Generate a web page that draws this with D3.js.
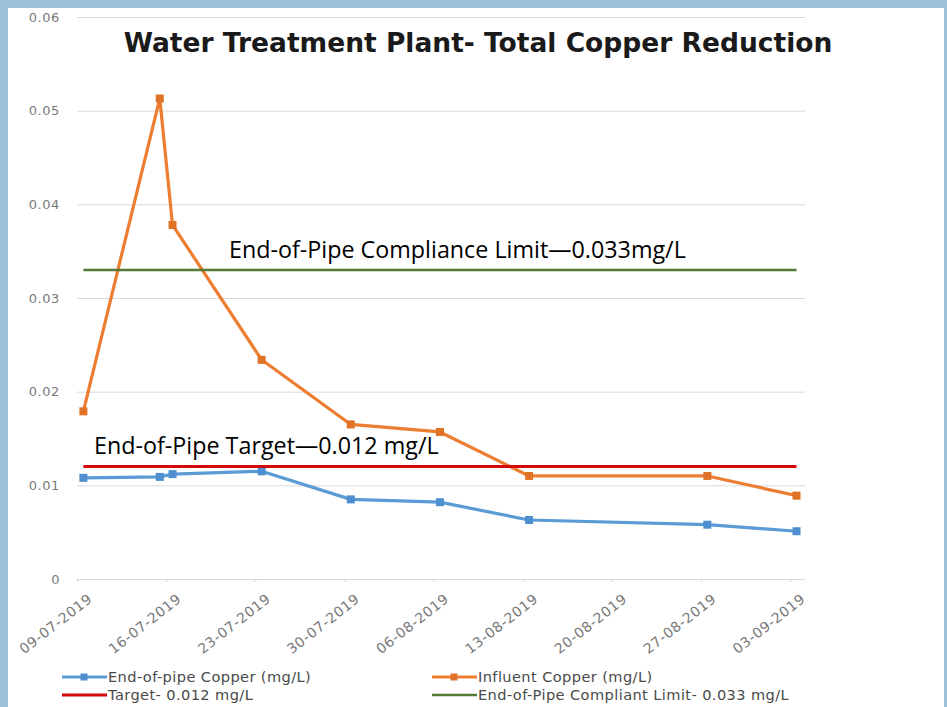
<!DOCTYPE html>
<html>
<head>
<meta charset="utf-8">
<script src="https://cdn.jsdelivr.net/npm/d3@7/dist/d3.min.js"></script>
<style>
  body { margin: 0; background: #9cc3d9; }
  svg { display: block; }
  .axis-label { font-family: "DejaVu Sans", sans-serif; fill: #7a7a7a; }
</style>
</head>
<body>
<svg id="chart"></svg>
<script>
// Sampling dates (dd-mm-yyyy as on the chart)
const sampleDates = ['09-07-2019', '15-07-2019', '16-07-2019', '23-07-2019', '30-07-2019',
  '06-08-2019', '13-08-2019', '27-08-2019', '03-09-2019'];

// mg/L values
const endOfPipeCopper = [0.0108, 0.0109, 0.0112, 0.0115, 0.0085, 0.0082, 0.0063, 0.0058, 0.0051];
const influentCopper = [0.0179, 0.0513, 0.0378, 0.0234, 0.0165, 0.0157, 0.0110, 0.0110, 0.0089];
const targetLimit = [0.012, 0.012, 0.012, 0.012, 0.012, 0.012, 0.012, 0.012, 0.012];
const complianceLimit = [0.033, 0.033, 0.033, 0.033, 0.033, 0.033, 0.033, 0.033, 0.033];

// axis ticks
const xTickLabels = ['09-07-2019', '16-07-2019', '23-07-2019', '30-07-2019', '06-08-2019',
  '13-08-2019', '20-08-2019', '27-08-2019', '03-09-2019'];
const yTickValues = [0, 0.01, 0.02, 0.03, 0.04, 0.05, 0.06];

const parseDay = d3.utcParse('%d-%m-%Y');

class CopperChart {
  constructor(_config) {
    this.config = {
      parentElement: _config.parentElement,
      containerWidth: 947,
      containerHeight: 707,
      plot: { left: 77, right: 805, top: 17, bottom: 579 },
    };
    this.initVis();
  }

  initVis() {
    let vis = this;
    const p = vis.config.plot;

    vis.svg = d3.select(vis.config.parentElement)
      .attr('width', vis.config.containerWidth)
      .attr('height', vis.config.containerHeight);

    // white card inside the blue frame
    vis.svg.append('rect')
      .attr('x', 8).attr('y', 8)
      .attr('width', 936).attr('height', 699)
      .attr('fill', '#ffffff');

    // Excel date axis: one slot per day, points sit in the middle of the slot
    vis.xScale = d3.scaleUtc()
      .domain([parseDay('09-07-2019'), new Date(Date.UTC(2019, 8, 4, 4))])
      .range([p.left, p.right]);

    vis.yScale = d3.scaleLinear()
      .domain([0, 0.06])
      .range([p.bottom, p.top]);

    vis.xPoint = (s) => vis.xScale(d3.utcHour.offset(parseDay(s), 12));

    vis.updateVis();
  }

  updateVis() {
    let vis = this;
    vis.series = [
      { name: 'End-of-pipe Copper (mg/L)', values: endOfPipeCopper, color: '#5b9bd5', marker: '#4e8fcf', width: 3.2 },
      { name: 'Influent Copper (mg/L)', values: influentCopper, color: '#ed7d31', marker: '#e07228', width: 3.2 },
      { name: 'Target- 0.012 mg/L', values: targetLimit, color: '#d40a0a', width: 3 },
      { name: 'End-of-Pipe Compliant Limit- 0.033 mg/L', values: complianceLimit, color: '#557a33', width: 2.5 },
    ];
    vis.renderVis();
  }

  renderVis() {
    let vis = this;
    const p = vis.config.plot;

    // gridlines
    const yAxis = d3.axisLeft(vis.yScale)
      .tickValues(yTickValues)
      .tickSize(-(p.right - p.left))
      .tickPadding(17)
      .tickFormat((d) => (d === 0 ? '0' : d3.format('.2f')(d)));

    vis.svg.append('g')
      .attr('transform', `translate(${p.left},0)`)
      .call(yAxis)
      .call((g) => g.select('.domain').remove())
      .call((g) => g.selectAll('.tick line').attr('stroke', '#d9d9d9'))
      .call((g) => g.selectAll('.tick text')
        .attr('class', 'axis-label')
        .attr('font-size', 13)
        .attr('letter-spacing', 0.6));

    // x axis ticks + rotated labels
    const xAxis = d3.axisBottom(vis.xScale)
      .tickValues(xTickLabels.map(parseDay))
      .tickSize(3)
      .tickSizeOuter(0)
      .tickFormat((d, i) => xTickLabels[i]);

    vis.svg.append('g')
      .attr('transform', `translate(0,${p.bottom})`)
      .call(xAxis)
      .call((g) => g.select('.domain').remove())
      .call((g) => g.selectAll('.tick line').attr('stroke', '#d9d9d9'))
      .call((g) => g.selectAll('.tick text')
        .attr('class', 'axis-label')
        .attr('font-size', 14)
        .attr('letter-spacing', 0.6)
        .attr('text-anchor', 'end')
        .attr('dy', 0)
        .attr('transform', 'translate(12,17) rotate(-38)'));

    const line = d3.line()
      .x((d, i) => vis.xPoint(sampleDates[i]))
      .y((d) => vis.yScale(d));

    const marks = vis.svg.append('g');

    // order: data lines first, limit lines over them
    const drawOrder = [vis.series[0], vis.series[1], vis.series[3], vis.series[2]];
    drawOrder.forEach((s) => {
      marks.append('path')
        .datum(s.values)
        .attr('fill', 'none')
        .attr('stroke', s.color)
        .attr('stroke-width', s.width)
        .attr('stroke-linejoin', 'round')
        .attr('d', line);

      if (s.marker) {
        marks.selectAll(null)
          .data(s.values)
          .join('rect')
          .attr('x', (d, i) => vis.xPoint(sampleDates[i]) - 4)
          .attr('y', (d) => vis.yScale(d) - 4)
          .attr('width', 8)
          .attr('height', 8)
          .attr('fill', s.marker);
      }
    });

    // annotations typed on the chart
    vis.svg.append('text')
      .attr('x', 229)
      .attr('y', 258)
      .attr('font-family', '"Open Sans", sans-serif')
      .attr('font-size', 23.3)
      .attr('fill', '#000')
      .text('End-of-Pipe Compliance Limit—0.033mg/L');

    vis.svg.append('text')
      .attr('x', 94)
      .attr('y', 454)
      .attr('font-family', '"Open Sans", sans-serif')
      .attr('font-size', 23.3)
      .attr('fill', '#000')
      .text('End-of-Pipe Target—0.012 mg/L');

    // title
    vis.svg.append('text')
      .attr('x', 478)
      .attr('y', 52)
      .attr('text-anchor', 'middle')
      .attr('font-family', '"DejaVu Sans", sans-serif')
      .attr('font-weight', 'bold')
      .attr('font-size', 26.5)
      .attr('fill', '#1a1a1a')
      .text('Water Treatment Plant- Total Copper Reduction');

    // legend, two rows of two
    const legendPos = [[62, 677], [432, 677], [62, 695], [432, 695]];
    const legend = vis.svg.append('g');
    vis.series.forEach((s, i) => {
      const [lx, ly] = legendPos[i];
      const item = legend.append('g').attr('transform', `translate(${lx},${ly})`);
      item.append('line')
        .attr('x1', 0).attr('x2', 45)
        .attr('stroke', s.color)
        .attr('stroke-width', s.width);
      if (s.marker) {
        item.append('rect')
          .attr('x', 18.5).attr('y', -3.5)
          .attr('width', 7).attr('height', 7)
          .attr('fill', s.marker);
      }
      item.append('text')
        .attr('class', 'axis-label')
        .attr('x', 46)
        .attr('y', 0)
        .attr('dy', '0.35em')
        .attr('font-size', 14.6)
        .attr('letter-spacing', 0.4)
        .style('fill', '#4a4a4a')
        .text(s.name);
    });
  }
}

new CopperChart({ parentElement: '#chart' });
</script>
</body>
</html>
